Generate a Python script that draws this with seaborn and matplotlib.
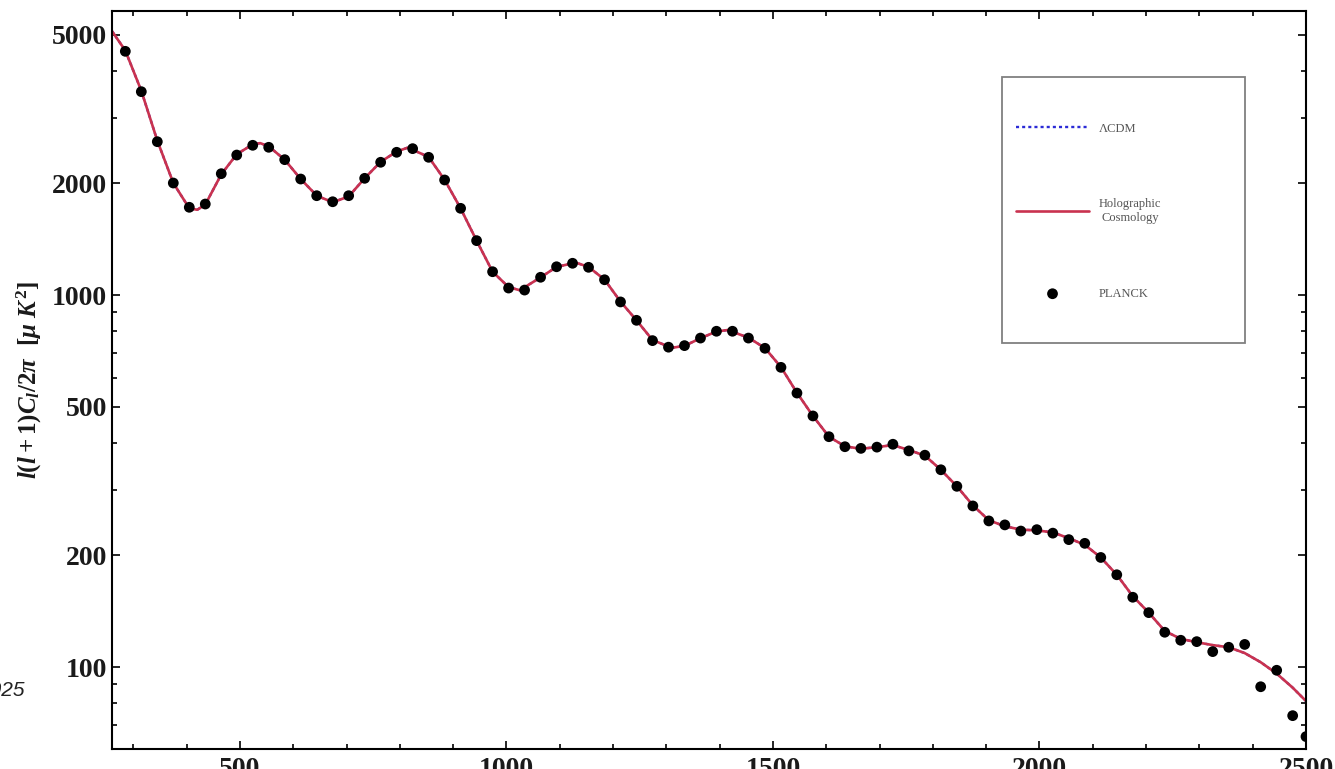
import matplotlib
matplotlib.use("Agg")
import matplotlib.pyplot as plt
from matplotlib.patches import Rectangle
from matplotlib.ticker import FixedLocator, MultipleLocator, LogLocator, NullFormatter
import numpy as np
import pandas as pd
import seaborn as sns

# PLANCK binned points: multipole l and l(l+1)C_l/2pi [muK^2]
planck_l = [285, 315, 345, 375, 405, 435, 465, 494, 524, 554,
            584, 614, 644, 674, 704, 734, 764, 794, 824, 854,
            884, 914, 944, 974, 1004, 1034, 1064, 1094, 1124, 1154,
            1184, 1214, 1244, 1274, 1304, 1334, 1364, 1394, 1424, 1454,
            1485, 1515, 1545, 1575, 1605, 1635, 1665, 1695, 1725, 1755,
            1785, 1815, 1845, 1875, 1905, 1935, 1965, 1995, 2025, 2055,
            2085, 2115, 2145, 2175, 2205, 2235, 2265, 2295, 2325, 2355,
            2385, 2415, 2445, 2475, 2500]
planck_dl = [4519, 3520, 2583, 2000, 1721, 1756, 2119, 2378, 2526, 2495,
             2311, 2050, 1849, 1781, 1849, 2059, 2274, 2419, 2474, 2345,
             2038, 1710, 1400, 1155, 1044, 1031, 1116, 1191, 1217, 1187,
             1099, 958, 855, 754, 724, 731, 766, 799, 799, 766,
             719, 639, 545, 473, 416, 391, 387, 390, 397, 381,
             371, 339, 306, 271, 247, 241, 232, 234, 229, 220,
             215, 197, 177, 154, 140, 124, 118, 117, 110, 113,
             115, 88.5, 98, 74, 65]

# model curves (Holographic Cosmology and LCDM lie on top of each other)
theory_l = [260, 285, 315, 345, 375, 405, 420, 435, 465, 494,
            524, 538, 554, 584, 614, 644, 674, 704, 734, 764,
            794, 815, 854, 884, 914, 944, 974, 1004, 1025, 1064,
            1094, 1130, 1154, 1184, 1214, 1244, 1274, 1310, 1334, 1364,
            1394, 1415, 1454, 1485, 1515, 1545, 1575, 1605, 1635, 1665,
            1695, 1725, 1755, 1785, 1815, 1845, 1875, 1905, 1935, 1965,
            1995, 2025, 2055, 2085, 2115, 2145, 2175, 2205, 2235, 2265,
            2295, 2325, 2355, 2385, 2415, 2445, 2475, 2500]
holo_dl = [5120, 4540, 3540, 2600, 2000, 1710, 1695, 1750, 2110, 2390,
           2540, 2560, 2510, 2310, 2050, 1850, 1775, 1840, 2060, 2280,
           2430, 2490, 2350, 2040, 1710, 1400, 1155, 1050, 1030, 1115,
           1190, 1222, 1190, 1100, 960, 855, 757, 721, 730, 765,
           798, 805, 768, 720, 640, 546, 473, 416, 392, 386,
           390, 395, 383, 370, 339, 306, 272, 248, 239, 234,
           233, 230, 222, 213, 197, 177, 155, 140, 125, 119,
           116.6, 114.5, 113, 109, 103, 96, 88, 81]
lcdm_dl = list(holo_dl)

x_ticks = [500, 1000, 1500, 2000, 2500]
y_ticks = [100, 200, 500, 1000, 2000, 5000]

sns.set_style("ticks")
plt.rcParams["font.family"] = ["Liberation Serif", "DejaVu Serif"]
plt.rcParams["mathtext.fontset"] = "custom"
plt.rcParams["mathtext.rm"] = "Liberation Serif:bold"
plt.rcParams["mathtext.it"] = "Liberation Serif:italic:bold"
plt.rcParams["mathtext.bf"] = "Liberation Serif:bold"

fig = plt.figure(figsize=(13.35, 7.69), dpi=100)
ax = fig.add_axes([112 / 1335, 20 / 769, 1194 / 1335, 738 / 769])

df_theory = pd.DataFrame({"l": theory_l, "holo": holo_dl, "lcdm": lcdm_dl})
df_planck = pd.DataFrame({"l": planck_l, "dl": planck_dl})

sns.lineplot(data=df_theory, x="l", y="lcdm", color="#2b2bd6", lw=1.7,
             linestyle=(0, (1.3, 1.3)), ax=ax, label="ΛCDM")
sns.lineplot(data=df_theory, x="l", y="holo", color="#c9324f", lw=1.9,
             ax=ax, label="Holographic\nCosmology")
sns.scatterplot(data=df_planck, x="l", y="dl", color="black", s=60,
                edgecolor="none", ax=ax, label="PLANCK", zorder=3)

ax.set_yscale("log")
ax.set_xlim(260, 2500)
ax.set_ylim(60.2, 5800)

ax.xaxis.set_major_locator(FixedLocator(x_ticks))
ax.xaxis.set_minor_locator(MultipleLocator(100))
ax.set_xticks(x_ticks, labels=[str(v) for v in x_ticks])
ax.set_yticks(y_ticks, labels=[str(v) for v in y_ticks])
ax.yaxis.set_minor_locator(LogLocator(base=10, subs=np.arange(2, 10)))
ax.yaxis.set_minor_formatter(NullFormatter())

ax.tick_params(which="both", direction="in", top=True, right=True,
               color="black", width=1.2)
ax.tick_params(which="major", length=6, labelsize=20)
ax.tick_params(which="minor", length=3.5)
ax.tick_params(axis="x", pad=6)
ax.tick_params(axis="y", pad=3.5)
for lab in ax.get_xticklabels() + ax.get_yticklabels():
    lab.set_fontweight("bold")
    lab.set_color("#1a1a1a")

for sp in ax.spines.values():
    sp.set_linewidth(1.5)
    sp.set_color("black")

ax.set_xlabel("")
ax.set_ylabel(r"$l(l+1)C_l/2\pi\ \ [\mu\ K^2]$", fontsize=18, color="#1a1a1a")
ax.yaxis.set_label_coords(-0.057, 0.5)

# legend: entries without frame, box drawn separately
leg = ax.legend(loc="upper left", bbox_to_anchor=(0.7521, 0.8571), frameon=False,
                borderpad=0, handlelength=5.8, handletextpad=0.8, labelspacing=5.1,
                fontsize=9, labelcolor="#555555", scatterpoints=1)
for t in leg.get_texts():
    t.set_multialignment("center")
ax.add_patch(Rectangle((0.7454, 0.5501), 0.2035, 0.3604, transform=ax.transAxes,
                       fill=False, edgecolor="#808080", lw=1.3, zorder=4))

fig.text(25 / 1335, 1 - 690 / 769, "2025", ha="right", va="center",
         fontsize=15, style="italic", family="Liberation Sans", color="#222222")

fig.savefig("out.png", dpi=100)
